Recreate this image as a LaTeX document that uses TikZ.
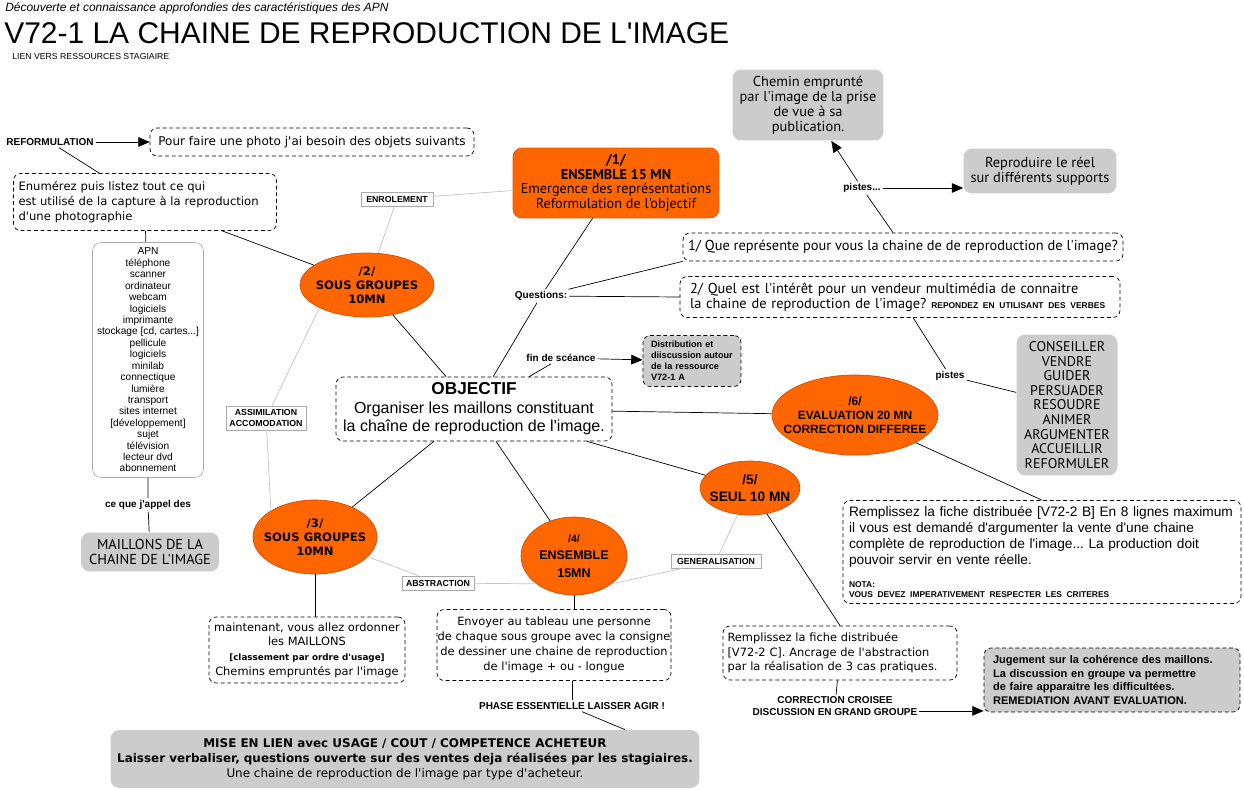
\documentclass[tikz,border=0pt]{standalone}
\usepackage{fontspec}
\setmainfont{Liberation Sans}[Ligatures=TeXOff]
\newfontfamily\verd{DejaVu Sans}
\newfontfamily\taho{PT Sans}[Ligatures=TeXOff]
\usetikzlibrary{shapes.geometric, positioning, arrows.meta}
\definecolor{orangefill}{HTML}{FF6600}
\definecolor{orangeline}{HTML}{D94A00}
\definecolor{boxgrey}{HTML}{CCCCCC}
\definecolor{taggrey}{HTML}{AAAAAA}
\definecolor{linegrey}{HTML}{C4C4C4}
\newcommand\fsz[2]{\fontsize{#1}{#2}\selectfont}
\frenchspacing

\begin{document}
\begin{tikzpicture}[x=0.02cm,y=-0.02cm,>={Triangle[length=6.5pt,width=5.5pt]},
    every node/.style={inner sep=0pt},
    dashbox/.style={draw,dash pattern=on 2.2pt off 1.6pt,rounded corners=4pt,fill=white,align=center,font=\verd\fsz{6.5}{8.3}},
    greybox/.style={fill=boxgrey,rounded corners=5pt,align=center},
    stage/.style={ellipse,draw=orangeline,fill=orangefill},
    stagetxt/.style={align=center},
    linkw/.style={fill=white,inner sep=1pt,align=center,font=\bfseries\fsz{5.7}{6.4}},
    tag/.style={draw=taggrey,fill=white,align=center,font=\bfseries\fsz{5}{5.8}},
    faint/.style={draw=linegrey}]
  \fill[white] (0,0) rectangle (1244,790);
  \useasboundingbox (0,0) rectangle (1244,790);

  % titre
  \node[anchor=base west,font=\itshape\fsz{6.8}{7}] (sousttl) at (5,12) {Découverte et connaissance approfondies des caractéristiques des APN};
  \node[anchor=base west,font=\fsz{17.05}{20}] (ttl) at (4,44) {V72-1 LA CHAINE DE REPRODUCTION DE L'IMAGE};
  \node[anchor=base west,font=\fsz{4.95}{5}] (lien) at (12,60) {LIEN VERS RESSOURCES STAGIAIRE};

  % colonne de gauche
  \node[linkw] (reform) at (50,142) {REFORMULATION};
  \node[dashbox,font=\verd\fsz{6.85}{8.3},minimum width=6.48cm,minimum height=0.56cm] (photo) at (312,142) {Pour faire une photo j'ai besoin des objets suivants};
  \node[dashbox,font=\verd\fsz{6.6}{8.3},align=left,text width=5.06cm,inner xsep=0.1cm,minimum height=1.14cm] (enum) at (145,202) {Enumérez puis listez tout ce qui\\est utilisé de la capture à la reproduction\\d'une photographie};
  \node[draw=taggrey,rounded corners=5pt,align=center,minimum width=2.22cm,minimum height=4.7cm,font=\fsz{5.8}{6.5}] (liste) at (148,360) {APN\\téléphone\\scanner\\ordinateur\\webcam\\logiciels\\imprimante\\stockage [cd, cartes...]\\pellicule\\logiciels\\minilab\\connectique\\lumière\\transport\\sites internet\\{[développement]}\\sujet\\télévision\\lecteur dvd\\abonnement};
  \node[linkw] (ceque) at (148,505) {ce que j'appel des};
  \node[greybox,minimum width=2.76cm,minimum height=0.78cm,font=\taho\fsz{8.2}{8.6}] (maillons) at (150,552) {MAILLONS DE LA\\CHAINE DE L'IMAGE};

  % etapes
  \node[stage,minimum width=2.68cm,minimum height=1.28cm,label={[stagetxt,font=\verd\bfseries\fsz{6.6}{7.9}]center:{/2/\\SOUS GROUPES\\10MN}}] (sg2) at (367,285) {};
  \node[tag,minimum width=1.44cm,minimum height=0.28cm] (enrol) at (397,199) {ENROLEMENT};
  \node[fill=orangefill,draw=orangeline!50!orangefill,rounded corners=5pt,align=center,minimum width=4.12cm,minimum height=1.4cm,font=\taho\fsz{8.1}{8.3}] (ens1) at (616,183) {\textbf{/1/}\\\textbf{ENSEMBLE 15 MN}\\Emergence des représentations\\Reformulation de l'objectif};
  \node[linkw] (quest) at (541,296) {Questions:};
  \node[dashbox,font=\taho\fsz{8.2}{8.4},minimum width=8.8cm,minimum height=0.56cm] (q1) at (903,247) {1/ Que représente pour vous la chaine de de reproduction de l'image?};
  \node[dashbox,font=\taho\fsz{8.2}{8.4},align=left,text width=8.4cm,inner xsep=0.2cm,minimum height=0.82cm] (q2) at (900,297) {2/ Quel est l'intérêt pour un vendeur multimédia de connaitre\\la chaine de reproduction de l'image? {\normalfont\bfseries\fsz{4.8}{8.4}REPONDEZ EN UTILISANT DES VERBES}};
  \node[linkw] (pistesA) at (862,188) {pistes...};
  \node[greybox,minimum width=3.02cm,minimum height=1.42cm,font=\taho\fsz{8.2}{8.5}] (chemin) at (808,105) {Chemin emprunté\\par l'image de la prise\\de vue à sa\\publication.};
  \node[greybox,minimum width=3.06cm,minimum height=0.9cm,font=\taho\fsz{8.2}{8.5}] (repro) at (1040,171) {Reproduire le réel\\sur différents supports};

  \node[dashbox,font=\fsz{9.1}{10.5},minimum width=5.52cm,minimum height=1.28cm] (obj) at (474,409) {{\bfseries\fsz{9.8}{10.5}OBJECTIF}\\Organiser les maillons constituant\\la chaîne de reproduction de l'image.};
  \node[linkw] (fin) at (561,358) {fin de scéance};
  \node[fill=boxgrey,draw,dash pattern=on 2.2pt off 1.6pt,rounded corners=4pt,align=left,text width=1.64cm,inner xsep=0.16cm,minimum height=1.02cm,font=\bfseries\fsz{5.2}{6.2}] (distr) at (692,361) {Distribution et\\diiscussion autour\\de la ressource\\V72-1 A};

  \node[stage,minimum width=3.32cm,minimum height=1.6cm,label={[stagetxt,font=\bfseries\fsz{6.8}{7.9}]center:{/6/\\EVALUATION 20 MN\\CORRECTION DIFFEREE}}] (eval6) at (855,415) {};
  \node[linkw] (pistesB) at (950,376) {pistes};
  \node[greybox,minimum width=2.02cm,minimum height=2.82cm,font=\taho\fsz{8}{8.3}] (verbes) at (1067,405) {CONSEILLER\\VENDRE\\GUIDER\\PERSUADER\\RESOUDRE\\ANIMER\\ARGUMENTER\\ACCUEILLIR\\REFORMULER};
  \node[dashbox,align=left,font=\fsz{7.8}{9.1},text width=7.72cm,inner xsep=0.12cm,minimum height=2.06cm] (ficheB) at (1042,552) {Remplissez la fiche distribuée [V72-2 B] En 8 lignes maximum\\il vous est demandé d'argumenter la vente d'une chaine\\complète de reproduction de l'image... La production doit\\pouvoir servir en vente réelle.\\[4pt]{\bfseries\fsz{4.8}{5.7}NOTA:}\\[-3.4pt]{\bfseries\fsz{4.8}{5.7}VOUS DEVEZ IMPERATIVEMENT RESPECTER LES CRITERES}};

  \node[stage,minimum width=2.48cm,minimum height=1.48cm,label={[stagetxt,font=\verd\bfseries\fsz{6.6}{7.9}]center:{/3/\\SOUS GROUPES\\10MN}}] (sg3) at (315,537) {};
  \node[stage,minimum width=2.12cm,minimum height=1.56cm,label={[stagetxt,font=\bfseries\fsz{7.1}{10}]center:{{\fsz{6}{10}/4/}\\ENSEMBLE\\15MN}}] (ens4) at (574,556) {};
  \node[stage,minimum width=2cm,minimum height=1.08cm,label={[stagetxt,font=\bfseries\fsz{7.8}{10}]center:{/5/\\SEUL 10 MN}}] (seul5) at (750,488) {};
  \node[tag,minimum width=1.6cm,minimum height=0.48cm] (assim) at (266,418) {ASSIMILATION\\ACCOMODATION};
  \node[tag,minimum width=1.44cm,minimum height=0.28cm] (abstr) at (438,583) {ABSTRACTION};
  \node[tag,minimum width=1.8cm,minimum height=0.28cm] (gener) at (716,561) {GENERALISATION};

  % bas
  \node[dashbox,minimum width=3.92cm,minimum height=1.32cm] (maint) at (307,650) {maintenant, vous allez ordonner\\les MAILLONS\\{\bfseries\fsz{5}{6}[classement par ordre d'usage]}\\Chemins empruntés par l'image};
  \node[dashbox,minimum width=4.68cm,minimum height=1.42cm,font=\verd\fsz{6.5}{8.5}] (envoy) at (554,645) {Envoyer au tableau une personne\\de chaque sous groupe avec la consigne\\de dessiner une chaine de reproduction\\de l'image + ou - longue};
  \node[linkw] (phase) at (572,706) {PHASE ESSENTIELLE LAISSER AGIR !};
  \node[greybox,minimum width=11.78cm,minimum height=1.16cm,font=\verd\fsz{6.8}{8.5}] (mise) at (405,759) {\textbf{MISE EN LIEN avec USAGE / COUT / COMPETENCE ACHETEUR}\\\textbf{Laisser verbaliser, questions ouverte sur des ventes deja réalisées par les stagiaires.}\\Une chaine de reproduction de l'image par type d'acheteur.};
  \node[dashbox,align=left,text width=4.5cm,inner xsep=0.09cm,minimum height=1.08cm] (ficheC) at (840,653) {Remplissez la fiche distribuée\\{[V72-2 C]}. Ancrage de l'abstraction\\par la réalisation de 3 cas pratiques.};
  \node[linkw] (corr) at (835,706) {CORRECTION CROISEE\\DISCUSSION EN GRAND GROUPE};
  \node[fill=boxgrey,draw,dash pattern=on 2.2pt off 1.6pt,rounded corners=4pt,align=left,text width=4.76cm,inner xsep=0.18cm,minimum height=1.28cm,font=\bfseries\fsz{6.3}{7.9}] (jug) at (1112,680) {Jugement sur la cohérence des maillons.\\La discussion en groupe va permettre\\de faire apparaitre les difficultées.\\REMEDIATION AVANT EVALUATION.};

  % liens
  \draw[->] (reform) -- (photo);
  \draw (reform) -- (enum);
  \draw (enum) -- (liste);
  \draw (enum) -- (sg2);
  \draw (liste) -- (ceque) -- (maillons);
  \draw[faint] (enrol) -- (ens1) (enrol) -- (sg2);
  \draw (sg2) -- (obj);
  \draw (ens1) -- (quest) -- (obj);
  \draw (quest) -- (q1.south west) (quest) -- (q2.west);
  \draw (q1) -- (pistesA);
  \draw[->] (pistesA) -- (chemin);
  \draw[->] (pistesA) -- (pistesA -| repro.west);
  \draw (obj) -- (fin);
  \draw[->] (fin) -- (distr);
  \draw (obj) -- (eval6);
  \draw (q2) -- (pistesB) -- (verbes);
  \draw (eval6) -- (ficheB.north);
  \draw (obj) -- (sg3) (obj) -- (ens4) (obj) -- (seul5);
  \draw (seul5) -- (ficheC.north);
  \draw (ficheC) -- (corr);
  \draw[->] ([yshift=-2.8pt]corr.east) -- ([yshift=-2.8pt]corr.east -| jug.west);
  \draw[faint] (sg2.south west) -- (assim) -- (sg3.north west);
  \draw[faint] (sg3) -- (abstr) -- (ens4.south west);
  \draw[faint] (seul5) -- (gener) -- (ens4.south east);
  \draw (sg3) -- (sg3 |- maint.north);
  \draw (ens4) -- (ens4 |- envoy.north);
  \draw (envoy.south -| phase) -- (phase);
  \draw ([xshift=0.2cm]phase.south) -- ([xshift=4.4cm]mise.north);
\end{tikzpicture}
\end{document}
